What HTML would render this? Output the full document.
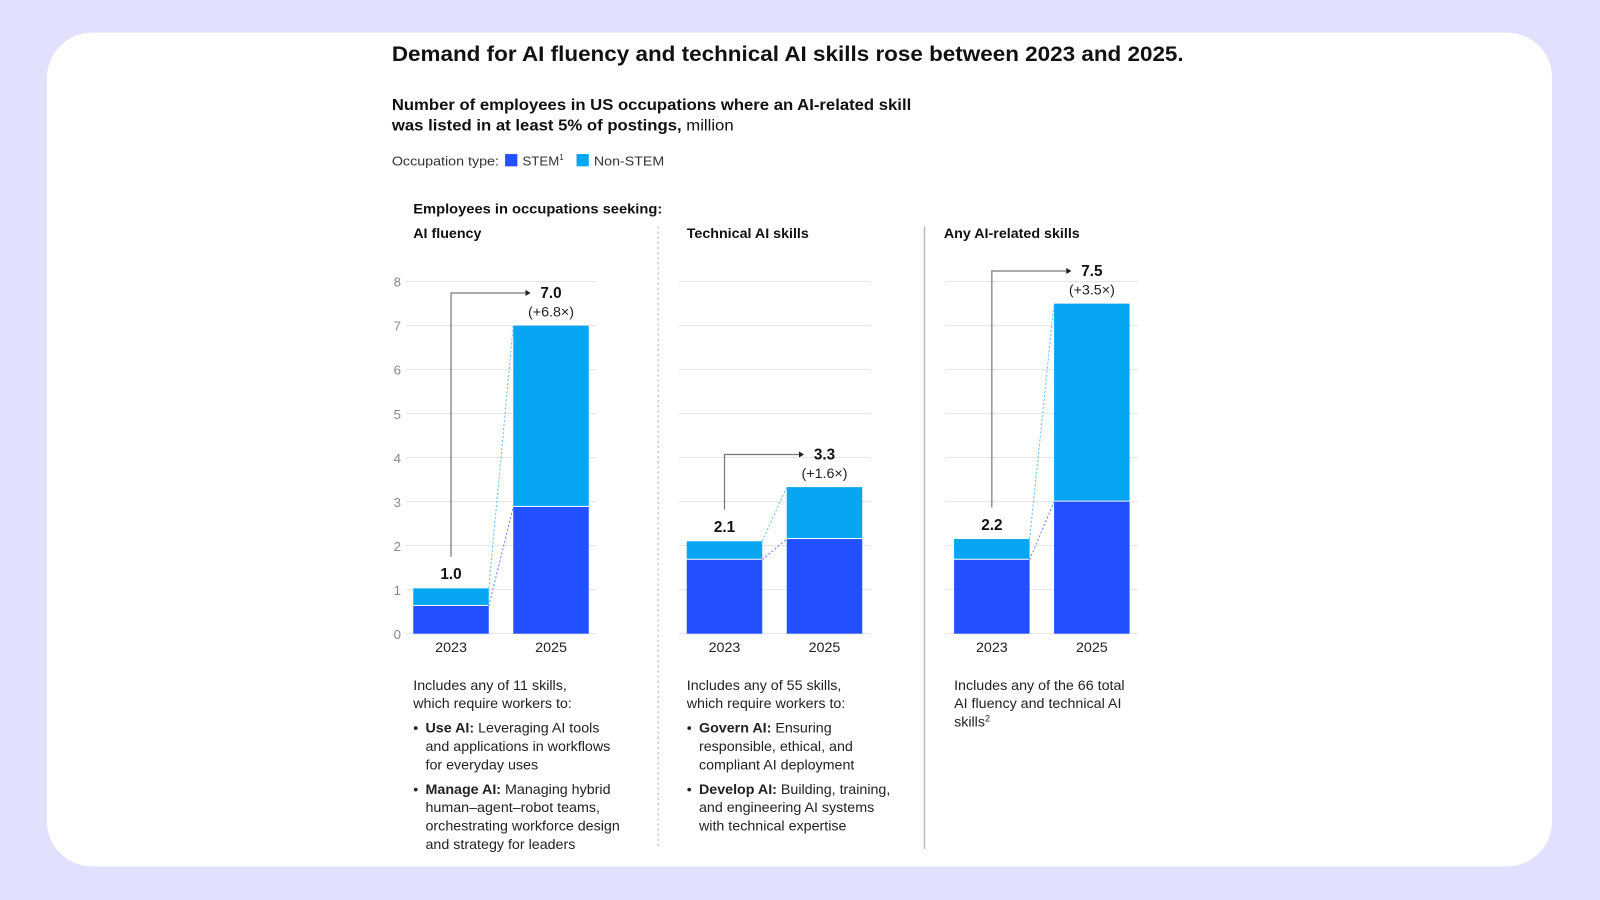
<!DOCTYPE html>
<html><head><meta charset="utf-8"><style>
html,body{margin:0;padding:0;background:#e1e1fd;}
svg{display:block;font-family:"Liberation Sans",Arial,sans-serif;}
</style></head><body>
<svg id="chart" width="1600" height="900" viewBox="0 0 1568 882" xmlns="http://www.w3.org/2000/svg">
<rect x="0" y="0" width="1568" height="882" fill="#e1e1fd"/>
<rect x="46" y="32" width="1475" height="817" rx="44" fill="#ffffff"/>
<text x="384" y="60" font-size="21" font-weight="bold" fill="#111" textLength="776" lengthAdjust="spacingAndGlyphs">Demand for AI fluency and technical AI skills rose between 2023 and 2025.</text>
<text x="384" y="108" font-size="15" font-weight="bold" fill="#111" textLength="509" lengthAdjust="spacingAndGlyphs">Number of employees in US occupations where an AI-related skill</text>
<text x="384" y="128" font-size="15" fill="#111" textLength="335" lengthAdjust="spacingAndGlyphs"><tspan font-weight="bold">was listed in at least 5% of postings,</tspan> million</text>
<g font-size="13" fill="#333">
<text x="384" y="162" textLength="105" lengthAdjust="spacingAndGlyphs">Occupation type:</text>
<rect x="495" y="151" width="12" height="12" fill="#2350ff"/>
<text x="512" y="162">STEM<tspan font-size="8" dy="-5">1</tspan></text>
<rect x="565" y="151" width="12" height="12" fill="#06a6f2"/>
<text x="582" y="162" textLength="69" lengthAdjust="spacingAndGlyphs">Non-STEM</text>
</g>
<text x="405" y="209" font-size="14" font-weight="bold" fill="#111" textLength="244" lengthAdjust="spacingAndGlyphs">Employees in occupations seeking:</text>
<line x1="645" y1="222" x2="645" y2="832" stroke="#aab" stroke-dasharray="2,3"/>
<line x1="906" y1="222" x2="906" y2="832" stroke="#bbb" stroke-width="1.5"/>
<g id="plot"></g>
<g id="notes" font-size="14" fill="#222">
<text x="405" y="676"><tspan x="405">Includes any of 11 skills,</tspan><tspan x="405" dy="18">which require workers to:</tspan><tspan x="405" dy="24">•</tspan><tspan x="417" font-weight="bold">Use AI:</tspan> Leveraging AI tools<tspan x="417" dy="18">and applications in workflows</tspan><tspan x="417" dy="18">for everyday uses</tspan><tspan x="405" dy="24">•</tspan><tspan x="417" font-weight="bold">Manage AI:</tspan> Managing hybrid<tspan x="417" dy="18">human–agent–robot teams,</tspan><tspan x="417" dy="18">orchestrating workforce design</tspan><tspan x="417" dy="18">and strategy for leaders</tspan></text>
<text x="673" y="676"><tspan x="673">Includes any of 55 skills,</tspan><tspan x="673" dy="18">which require workers to:</tspan><tspan x="673" dy="24">•</tspan><tspan x="685" font-weight="bold">Govern AI:</tspan> Ensuring<tspan x="685" dy="18">responsible, ethical, and</tspan><tspan x="685" dy="18">compliant AI deployment</tspan><tspan x="673" dy="24">•</tspan><tspan x="685" font-weight="bold">Develop AI:</tspan> Building, training,<tspan x="685" dy="18">and engineering AI systems</tspan><tspan x="685" dy="18">with technical expertise</tspan></text>
<text x="935" y="676"><tspan x="935">Includes any of the 66 total</tspan><tspan x="935" dy="18">AI fluency and technical AI</tspan><tspan x="935" dy="18">skills</tspan><tspan font-size="9" dy="-5">2</tspan></text>
</g>
</svg>
<script>
const panelTitles = ["AI fluency", "Technical AI skills", "Any AI-related skills"];
const years = ["2023", "2025"];
const stem2023 = [0.63, 1.68, 1.68];
const total2023 = [1.03, 2.1, 2.15];
const stem2025 = [2.88, 2.15, 3.0];
const total2025 = [7.0, 3.33, 7.5];
const label2023 = ["1.0", "2.1", "2.2"];
const label2025 = ["7.0", "3.3", "7.5"];
const multipliers = ["(+6.8×)", "(+1.6×)", "(+3.5×)"];
const yTicks = [0, 1, 2, 3, 4, 5, 6, 7, 8];

const NS = "http://www.w3.org/2000/svg";
const plot = document.getElementById("plot");
const panelX = [405, 673, 935];
const titleX = [405, 673, 925];
const gridX = [[398, 585], [665, 853], [927, 1115]];
const barW = 74, gap = 24;
const y0 = 621, yMax = 8, yTop = 276;
function yScale(v){ return y0 - (v / yMax) * (y0 - yTop); }
function mk(tag, attrs, parent){
  const e = document.createElementNS(NS, tag);
  for (const k in attrs) e.setAttribute(k, attrs[k]);
  (parent || plot).appendChild(e);
  return e;
}
yTicks.forEach(t => {
  const tx = mk("text", {x: 393, y: yScale(t) + 5, "text-anchor": "end", "font-size": 13, fill: "#888"});
  
  
  tx.textContent = t;
});
panelTitles.forEach((title, i) => {
  const g = mk("g", {});
  
  
  const pt = mk("text", {x: titleX[i], y: 233, "font-size": 14, "font-weight": "bold", fill: "#111"}, g);
  
  
  pt.textContent = title;
  yTicks.forEach(t => {
    const gl = mk("line", {x1: gridX[i][0], x2: gridX[i][1], y1: yScale(t), y2: yScale(t), stroke: "#e2e2e2", "stroke-width": 1}, g);
    
    
  });
  const xa = panelX[i], xb = panelX[i] + barW + gap;
  const bars = [[xa, stem2023[i], total2023[i]], [xb, stem2025[i], total2025[i]]];
  bars.forEach((b, j) => {
    const r1 = mk("rect", {x: b[0], y: yScale(b[1]), width: barW, height: y0 - yScale(b[1]), fill: "#2350ff"}, g);
    
    
    const r2 = mk("rect", {x: b[0], y: yScale(b[2]), width: barW, height: yScale(b[1]) - yScale(b[2]) - 1, fill: "#06a6f2"}, g);
    
    
    const yl = mk("text", {x: b[0] + barW / 2, y: 639, "text-anchor": "middle", "font-size": 14, fill: "#222"}, g);
    
    
    yl.textContent = years[j];
  });
  const c1 = mk("line", {x1: xa + barW, y1: yScale(total2023[i]), x2: xb, y2: yScale(total2025[i]), stroke: "#5fbff5", "stroke-dasharray": "2,2"}, g);
  
  
  const c2 = mk("line", {x1: xa + barW, y1: yScale(stem2023[i]), x2: xb, y2: yScale(stem2025[i]), stroke: "#6a7ff5", "stroke-dasharray": "2,2"}, g);
  
  
  const ly23 = yScale(total2023[i]) - 9;
  const l1 = mk("text", {x: xa + barW / 2, y: ly23, "text-anchor": "middle", "font-size": 15, "font-weight": "bold", fill: "#111"}, g);
  
  
  l1.textContent = label2023[i];
  const top25 = yScale(total2025[i]);
  const elbowY = top25 - 32;
  const l2 = mk("text", {x: xb + barW / 2, y: elbowY + 5, "text-anchor": "middle", "font-size": 15, "font-weight": "bold", fill: "#111"}, g);
  
  
  l2.textContent = label2025[i];
  const l3 = mk("text", {x: xb + barW / 2, y: elbowY + 23, "text-anchor": "middle", "font-size": 14, fill: "#222"}, g);
  
  
  l3.textContent = multipliers[i];
  const cx = xa + barW / 2;
  const arrowEnd = xb + barW / 2 - 20;
  const p = mk("path", {d: `M${cx},${ly23 - 22} V${elbowY} H${arrowEnd - 4}`, fill: "none", stroke: "#777", "stroke-width": 1.2}, g);
  
  
  const ah = mk("path", {d: `M${arrowEnd - 5},${elbowY - 3} L${arrowEnd},${elbowY} L${arrowEnd - 5},${elbowY + 3} Z`, fill: "#222"}, g);
  
  
});
</script>
</body></html>
